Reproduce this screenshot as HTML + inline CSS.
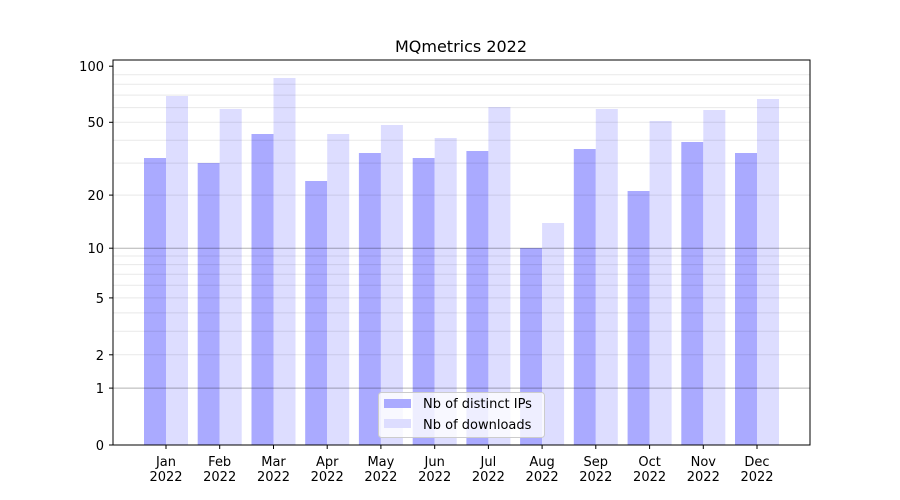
<!DOCTYPE html><html><head><style>body{margin:0;background:#fff}svg{display:block;font-family:"DejaVu Sans","Liberation Sans",sans-serif}</style></head><body>
<svg width="900" height="500" xmlns="http://www.w3.org/2000/svg">
<rect width="900" height="500" fill="#fff"/>
<text x="461" y="52" font-size="16" text-anchor="middle">MQmetrics 2022</text>
<g fill="#aaaaff">
<rect x="144" y="158" width="22" height="287"/><rect x="197.7" y="163" width="22" height="282"/><rect x="251.5" y="134" width="22" height="311"/><rect x="305.2" y="181" width="22" height="264"/><rect x="358.9" y="153" width="22" height="292"/><rect x="412.7" y="158" width="22" height="287"/><rect x="466.4" y="151" width="22" height="294"/><rect x="520.1" y="248" width="22" height="197"/><rect x="573.8" y="149" width="22" height="296"/><rect x="627.6" y="191" width="22" height="254"/><rect x="681.3" y="142" width="22" height="303"/><rect x="735" y="153" width="22" height="292"/>
</g>
<g fill="#ddddff">
<rect x="166" y="96" width="22" height="349"/><rect x="219.7" y="109" width="22" height="336"/><rect x="273.5" y="78" width="22" height="367"/><rect x="327.2" y="134" width="22" height="311"/><rect x="380.9" y="125" width="22" height="320"/><rect x="434.7" y="138" width="22" height="307"/><rect x="488.4" y="107" width="22" height="338"/><rect x="542.1" y="223" width="22" height="222"/><rect x="595.8" y="109" width="22" height="336"/><rect x="649.6" y="121" width="22" height="324"/><rect x="703.3" y="110" width="22" height="335"/><rect x="757" y="99" width="22" height="346"/>
</g>
<g stroke="#000" stroke-opacity="0.09" stroke-width="1">
<line x1="113" x2="810" y1="354.8" y2="354.8"/><line x1="113" x2="810" y1="331.2" y2="331.2"/><line x1="113" x2="810" y1="312.9" y2="312.9"/><line x1="113" x2="810" y1="297.9" y2="297.9"/><line x1="113" x2="810" y1="285.3" y2="285.3"/><line x1="113" x2="810" y1="274.3" y2="274.3"/><line x1="113" x2="810" y1="264.6" y2="264.6"/><line x1="113" x2="810" y1="256" y2="256"/><line x1="113" x2="810" y1="195.1" y2="195.1"/><line x1="113" x2="810" y1="163.1" y2="163.1"/><line x1="113" x2="810" y1="140.2" y2="140.2"/><line x1="113" x2="810" y1="122.3" y2="122.3"/><line x1="113" x2="810" y1="107.6" y2="107.6"/><line x1="113" x2="810" y1="95.1" y2="95.1"/><line x1="113" x2="810" y1="84.3" y2="84.3"/><line x1="113" x2="810" y1="74.7" y2="74.7"/>
</g>
<g stroke="#000" stroke-opacity="0.3"><line x1="113" x2="810" y1="388.1" y2="388.1"/><line x1="113" x2="810" y1="248.2" y2="248.2"/></g>
<rect x="113" y="60" width="697" height="385" fill="none" stroke="#000" stroke-width="1"/>
<g stroke="#000">
<line x1="109" x2="113" y1="445" y2="445"/><line x1="109" x2="113" y1="388.1" y2="388.1"/><line x1="109" x2="113" y1="354.8" y2="354.8"/><line x1="109" x2="113" y1="297.9" y2="297.9"/><line x1="109" x2="113" y1="248.2" y2="248.2"/><line x1="109" x2="113" y1="195.1" y2="195.1"/><line x1="109" x2="113" y1="122.3" y2="122.3"/><line x1="109" x2="113" y1="66.2" y2="66.2"/>
<line x1="166" x2="166" y1="445" y2="449"/><line x1="219.7" x2="219.7" y1="445" y2="449"/><line x1="273.5" x2="273.5" y1="445" y2="449"/><line x1="327.2" x2="327.2" y1="445" y2="449"/><line x1="380.9" x2="380.9" y1="445" y2="449"/><line x1="434.7" x2="434.7" y1="445" y2="449"/><line x1="488.4" x2="488.4" y1="445" y2="449"/><line x1="542.1" x2="542.1" y1="445" y2="449"/><line x1="595.8" x2="595.8" y1="445" y2="449"/><line x1="649.6" x2="649.6" y1="445" y2="449"/><line x1="703.3" x2="703.3" y1="445" y2="449"/><line x1="757" x2="757" y1="445" y2="449"/>
</g>
<g font-size="13" text-anchor="end">
<text x="104" y="450">0</text><text x="104" y="393">1</text><text x="104" y="360">2</text><text x="104" y="303">5</text><text x="104" y="253">10</text><text x="104" y="200">20</text><text x="104" y="127">50</text><text x="104" y="71">100</text>
</g>
<g font-size="13" text-anchor="middle">
<text x="166" y="466">Jan</text><text x="166" y="481">2022</text>
<text x="219.7" y="466">Feb</text><text x="219.7" y="481">2022</text>
<text x="273.5" y="466">Mar</text><text x="273.5" y="481">2022</text>
<text x="327.2" y="466">Apr</text><text x="327.2" y="481">2022</text>
<text x="380.9" y="466">May</text><text x="380.9" y="481">2022</text>
<text x="434.7" y="466">Jun</text><text x="434.7" y="481">2022</text>
<text x="488.4" y="466">Jul</text><text x="488.4" y="481">2022</text>
<text x="542.1" y="466">Aug</text><text x="542.1" y="481">2022</text>
<text x="595.8" y="466">Sep</text><text x="595.8" y="481">2022</text>
<text x="649.6" y="466">Oct</text><text x="649.6" y="481">2022</text>
<text x="703.3" y="466">Nov</text><text x="703.3" y="481">2022</text>
<text x="757" y="466">Dec</text><text x="757" y="481">2022</text>
</g>
<rect x="378.5" y="392.5" width="166" height="45" rx="3" fill="#fff" fill-opacity="0.8" stroke="#ccc"/>
<rect x="384" y="399" width="27" height="9" fill="#aaaaff"/>
<rect x="384" y="419" width="27" height="9" fill="#ddddff"/>
<text x="423" y="408" font-size="13">Nb of distinct IPs</text>
<text x="423" y="429" font-size="13">Nb of downloads</text>
</svg>
</body></html>
